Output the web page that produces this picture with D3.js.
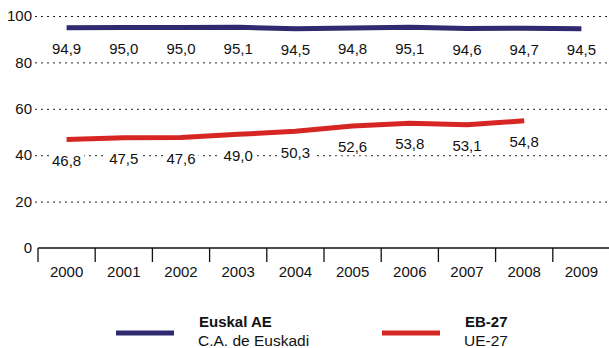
<!DOCTYPE html>
<html>
<head>
<meta charset="utf-8">
<script src="https://cdn.jsdelivr.net/npm/d3@7"></script>
<style>
  html, body { margin: 0; padding: 0; background: #fff; }
  svg { display: block; font-family: "Liberation Sans", Arial, Helvetica, sans-serif; }
</style>
</head>
<body>
<svg id="chart" width="609" height="348"></svg>
<script>
// Years on the x axis
const years = ["2000", "2001", "2002", "2003", "2004", "2005", "2006", "2007", "2008", "2009"];
// Basque Country series
const euskadi = [94.9, 95.0, 95.0, 95.1, 94.5, 94.8, 95.1, 94.6, 94.7, 94.5];
// EU-27 series (no 2009 value)
const eu27 = [46.8, 47.5, 47.6, 49.0, 50.3, 52.6, 53.8, 53.1, 54.8];
// Y axis ticks
const yTicks = [0, 20, 40, 60, 80, 100];

const series = [
  { name: "Euskal AE", sub: "C.A. de Euskadi", values: euskadi, color: "#2f2a70" },
  { name: "EB-27", sub: "UE-27", values: eu27, color: "#d62623" }
];

const svg = d3.select("#chart");
const x = d3.scaleBand().domain(years).range([38, 610]).padding(0);
const y = d3.scaleLinear().domain([0, 100]).range([248, 16]);
const fmt = v => d3.format(".1f")(v).replace(".", ",");

// dotted gridlines with left tick labels
const grid = svg.append("g");
yTicks.filter(t => t > 0).forEach(t => {
  grid.append("line")
    .attr("x1", 35).attr("x2", 609)
    .attr("y1", y(t) + 0.5).attr("y2", y(t) + 0.5)
    .attr("stroke", "#222").attr("stroke-width", 1)
    .attr("stroke-dasharray", "2,4");
});
yTicks.forEach(t => {
  grid.append("text")
    .attr("x", 32).attr("y", y(t))
    .attr("dy", "0.35em")
    .attr("text-anchor", "end")
    .attr("font-size", 15).attr("fill", "#111")
    .text(t);
});

// x axis: baseline with ticks at band edges
const xAxis = d3.axisBottom(x).tickSize(0).tickPadding(18);
const ax = svg.append("g").attr("transform", `translate(0,${y(0)})`).call(xAxis);
ax.select(".domain").attr("stroke", "#111").attr("stroke-width", 1.3).attr("d", `M${x.range()[0]},0H609`);
ax.selectAll("text").attr("font-size", 15).attr("fill", "#111").attr("font-family", null);
const edges = years.map(d => x(d)).concat([x(years[years.length - 1]) + x.bandwidth()]);
ax.selectAll("line.edge").data(edges).join("line")
  .attr("class", "edge")
  .attr("x1", d => d).attr("x2", d => d)
  .attr("y1", 0).attr("y2", 14)
  .attr("stroke", "#111").attr("stroke-width", 1.3);

// lines
const line = d3.line()
  .x((d, i) => x(years[i]) + x.bandwidth() / 2)
  .y(d => y(d));
series.forEach(s => {
  svg.append("path")
    .datum(s.values)
    .attr("d", line)
    .attr("fill", "none")
    .attr("stroke", s.color)
    .attr("stroke-width", 5);
});

// value labels below each point, on a white knockout
series.forEach(s => {
  const g = svg.append("g");
  s.values.forEach((v, i) => {
    const cx = x(years[i]) + x.bandwidth() / 2;
    const cy = y(v) + 21;
    const t = g.append("text")
      .attr("x", cx).attr("y", cy)
      .attr("dy", "0.35em")
      .attr("text-anchor", "middle")
      .attr("font-size", 15).attr("fill", "#111")
      .text(fmt(v));
    const bb = t.node().getBBox();
    g.insert("rect", () => t.node())
      .attr("x", bb.x - 3).attr("y", bb.y)
      .attr("width", bb.width + 6).attr("height", bb.height)
      .attr("fill", "#fff");
  });
});

// legend
const legendX = [116, 382];
series.forEach((s, i) => {
  const g = svg.append("g").attr("transform", `translate(${legendX[i]},333)`);
  g.append("line").attr("x1", 0).attr("x2", 58).attr("y1", 0).attr("y2", 0)
    .attr("stroke", s.color).attr("stroke-width", 5);
  g.append("text").attr("x", 83).attr("y", -11).attr("dy", "0.35em")
    .attr("font-size", 15).attr("font-weight", "bold").attr("fill", "#111").text(s.name);
  g.append("text").attr("x", 82).attr("y", 8).attr("dy", "0.35em")
    .attr("font-size", 15.5).attr("fill", "#111").text(s.sub);
});
</script>
</body>
</html>
